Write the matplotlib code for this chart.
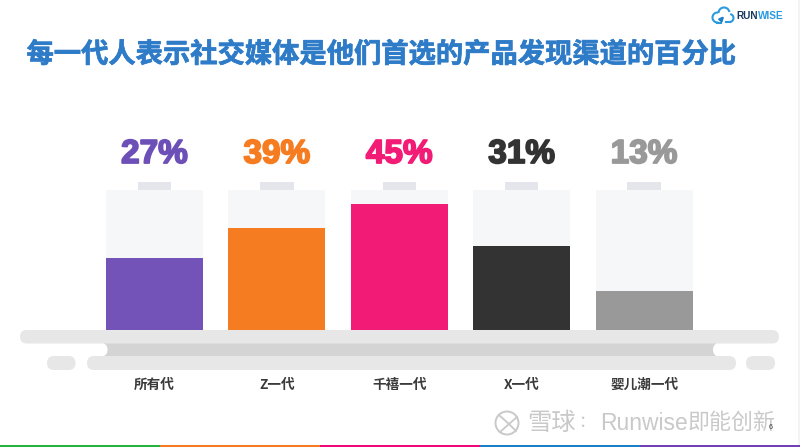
import matplotlib
matplotlib.use("Agg")
import matplotlib.pyplot as plt
from matplotlib.patches import FancyBboxPatch, Rectangle, Circle, Arc
import matplotlib.patheffects as pe

CJK = ['Noto Sans CJK SC', 'DejaVu Sans']
title = "每一代人表示社交媒体是他们首选的产品发现渠道的百分比"
generations = ["所有代", "Z一代", "千禧一代", "X一代", "婴儿潮一代"]
percent_labels = ["27%", "39%", "45%", "31%", "13%"]
fill_levels = [51.2, 72.6, 89.8, 60.2, 27.8]   # visible fill of each battery, % of its body
bar_colors = ["#7453b9", "#f57c20", "#f21b76", "#333333", "#999999"]
text_colors = ["#6d4fb8", "#f57c20", "#f21b76", "#333333", "#999999"]
stripe_colors = ["#22b33c", "#f57c20", "#f0087a", "#1e7fc9", "#7040b8"]

W, H = 800, 447
fig = plt.figure(figsize=(8, 4.47), dpi=100, facecolor="white")
bg = fig.add_axes([0, 0, 1, 1])
bg.set_xlim(0, W); bg.set_ylim(H, 0); bg.axis("off")

def pill(ax, x0, y0, x1, y1, color, r=None, z=1):
    r = (y1 - y0) / 2 if r is None else r
    ax.add_patch(FancyBboxPatch((x0 + r, y0 + r), x1 - x0 - 2 * r, y1 - y0 - 2 * r,
                                boxstyle=f"round,pad={r},rounding_size={r}",
                                fc=color, ec="none", zorder=z))

# right page edge
bg.add_patch(Rectangle((798, 0), 2, H, fc="#f3f3f3", ec="none", zorder=0))

# shelf
bg.add_patch(Rectangle((104, 343), 612, 13.5, fc="#d4d4d4", ec="none", zorder=1))
pill(bg, 60, 343, 107.5, 356.5, "white", z=1.5)
pill(bg, 713, 343, 760, 356.5, "white", z=1.5)
pill(bg, 20, 330, 779, 343.5, "#e7e7e7", z=2)
pill(bg, 87, 356, 736, 370, "#e7e7e7", z=2)
pill(bg, 47, 356, 75.5, 370, "#e7e7e7", z=2)
pill(bg, 746, 356, 775, 370, "#e7e7e7", z=2)

# bars: battery body and fill in their own axes
pitch, c0, base_y, top_y = 122.4, 154.5, 329.5, 190
bars = fig.add_axes([0, 1 - base_y / H, 1, (base_y - top_y) / H])
bars.set_xlim(-c0 / pitch, (W - c0) / pitch); bars.set_ylim(0, 100)
bars.axis("off"); bars.patch.set_alpha(0)
xs = list(range(len(generations)))
bw = 97 / pitch
bars.bar(xs, [100] * 5, width=bw, color="#f6f7f9", zorder=1)
bars.bar(xs, fill_levels, width=bw, color=bar_colors, zorder=2)
bars.bar(xs, [5.7] * 5, bottom=100, width=33.5 / pitch, color="#e5e6eb", zorder=1, clip_on=False)

for i, (lab, pc, col) in enumerate(zip(generations, percent_labels, text_colors)):
    cx = c0 + pitch * i
    bg.text(cx, 151, pc, ha="center", va="center_baseline", fontsize=24, fontweight="bold",
            family="Liberation Sans", color=col,
            path_effects=[pe.withStroke(linewidth=1.3, foreground=col)])
    bg.text(cx, 384.5, lab, ha="center", va="center", fontsize=9.8, fontweight="bold",
            family=CJK, color="#3a3a3a")

bg.text(26.5, 54.5, title, ha="left", va="center", fontsize=19.65, fontweight="bold",
        family=CJK, color="#2e7bc8",
        path_effects=[pe.withStroke(linewidth=0.5, foreground="#2e7bc8")])

# logo
blue = "#2a9ae0"
for (cx, cy, r, t1, t2) in [(717.5, 17.5, 5, 80, 280), (724, 13, 5.5, 10, 180), (729.5, 18, 4, -90, 80)]:
    bg.add_patch(Arc((cx, cy), 2 * r, 2 * r, theta1=-t2, theta2=-t1, color=blue, lw=1.5, zorder=3))
bg.plot([717, 721], [22.5, 22.5], color=blue, lw=1.5)
bg.plot([726, 730], [22, 22], color=blue, lw=1.5)
bg.annotate("", xy=(726, 14), xytext=(719, 22),
            arrowprops=dict(arrowstyle="-|>", color="#1e7fc9", lw=1.5, mutation_scale=6))
bg.text(736, 16, "RUN", ha="left", va="center", fontsize=7.2, fontweight="bold",
        family="Liberation Sans", color="#17375e")
bg.text(757.5, 16, "WISE", ha="left", va="center", fontsize=7.2, fontweight="bold",
        family="Liberation Sans", color=blue)

# watermark
wm = "#c9c9c9"
bg.add_patch(Circle((507, 423), 11.5, fc="none", ec=wm, lw=1.4))
bg.plot([500, 509, 500], [416, 424, 432], color=wm, lw=1.3)
bg.plot([517, 509, 516], [417, 424, 431], color=wm, lw=1.3)
bg.text(527, 422.5, "雪球", ha="left", va="center", fontsize=17.5, family=CJK, color=wm)
bg.text(578, 422.5, "：", ha="left", va="center", fontsize=12, family=CJK, color=wm)
bg.text(600, 423, "Runwise", ha="left", va="center", fontsize=16.5, family="Liberation Sans", color=wm)
bg.text(687.5, 422.5, "即能创新", ha="left", va="center", fontsize=15.8, family=CJK, color=wm)
bg.text(771, 427.5, "6", ha="center", va="center", fontsize=5, color="#333333", family="Liberation Sans")

# bottom stripes
for i, c in enumerate(stripe_colors):
    bg.add_patch(Rectangle((i * 160, 445), 160, 2, fc=c, ec="none", zorder=3))

fig.savefig("out.png", dpi=100, facecolor="white")
